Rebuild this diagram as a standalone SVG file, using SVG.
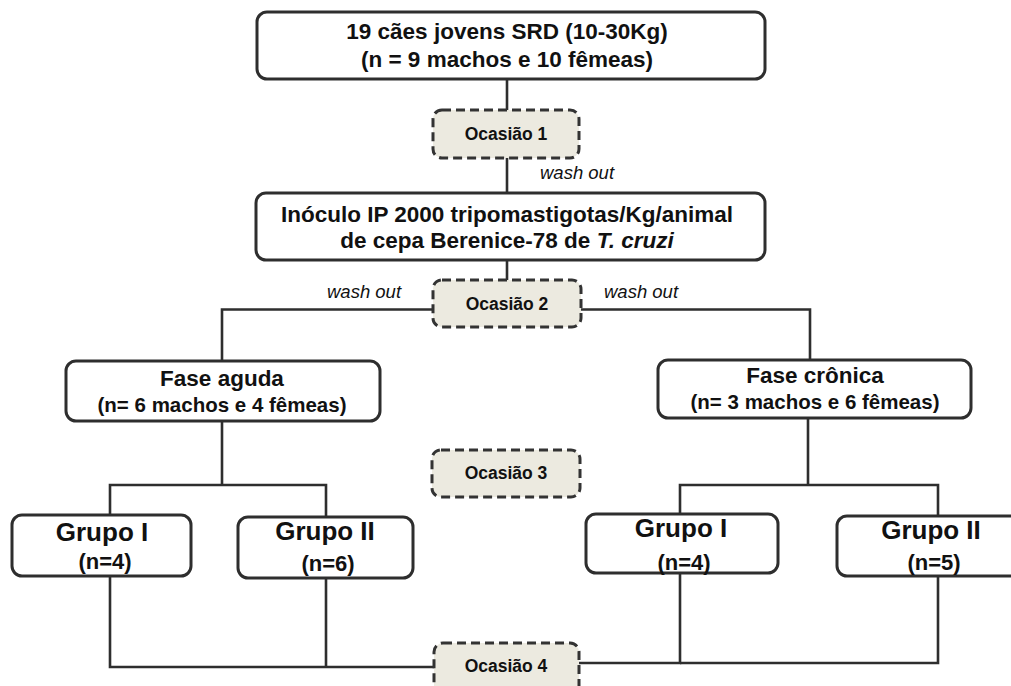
<svg xmlns="http://www.w3.org/2000/svg" width="1011" height="686" viewBox="0 0 1011 686">
<style>
.box{fill:#fff;stroke:#2e2e2e;stroke-width:3}
.occ{fill:#eceae0;stroke:#333;stroke-width:3;stroke-dasharray:9 5}
.ln{fill:none;stroke:#2e2e2e;stroke-width:2.6}
text{font-family:"Liberation Sans",Arial,sans-serif;fill:#111;text-anchor:middle}
.b{font-weight:bold;font-size:22.5px}
.s{font-weight:bold;font-size:20.5px}
.g{font-weight:bold;font-size:26px}
.n{font-weight:bold;font-size:22px}
.o{font-weight:bold;font-size:17.5px}
.w{font-style:italic;font-size:18.5px;text-anchor:start}
</style>
<rect width="1011" height="686" fill="#fff"/>
<g id="connectors">
<path class="ln" d="M507,79V110"/>
<path class="ln" d="M507,158V193"/>
<path class="ln" d="M507,260V280"/>
<path class="ln" d="M433,309.5H222V361"/>
<path class="ln" d="M581,309.5H810V360"/>
<path class="ln" d="M222,421V485"/>
<path class="ln" d="M110,515V485H326V517"/>
<path class="ln" d="M808,418V485"/>
<path class="ln" d="M680,514V485H938V516"/>
<path class="ln" d="M110,576V667H434"/>
<path class="ln" d="M326,578V667"/>
<path class="ln" d="M680,573V663H579"/>
<path class="ln" d="M938,576V663H680"/>
<text class="w" x="540" y="179">wash out</text>
<text class="w" x="327" y="298">wash out</text>
<text class="w" x="604" y="298">wash out</text>
</g>
<g id="top">
<rect class="box" x="257" y="12" width="508" height="67" rx="10"/>
<text class="b" x="507" y="39">19 cães jovens SRD (10-30Kg)</text>
<text class="b" x="507" y="67">(n = 9 machos e 10 fêmeas)</text>
</g>
<g id="ocasiao1">
<rect class="occ" x="433" y="110" width="146" height="48" rx="9"/>
<text class="o" x="506" y="140">Ocasião 1</text>
</g>
<g id="inoculo">
<rect class="box" x="256" y="193" width="509" height="67" rx="10"/>
<text class="b" x="507" y="222">Inóculo IP 2000 tripomastigotas/Kg/animal</text>
<text class="b" x="507" y="248">de cepa Berenice-78 de <tspan font-style="italic">T. cruzi</tspan></text>
</g>
<g id="ocasiao2">
<rect class="occ" x="433" y="280" width="148" height="47" rx="9"/>
<text class="o" x="507" y="310">Ocasião 2</text>
</g>
<g id="faseAguda">
<rect class="box" x="66" y="361" width="314" height="60" rx="10"/>
<text class="b" x="222" y="386">Fase aguda</text>
<text class="s" x="222" y="412">(n= 6 machos e 4 fêmeas)</text>
</g>
<g id="faseCronica">
<rect class="box" x="658" y="360" width="313" height="58" rx="10"/>
<text class="b" x="815" y="383">Fase crônica</text>
<text class="s" x="815" y="409">(n= 3 machos e 6 fêmeas)</text>
</g>
<g id="ocasiao3">
<rect class="occ" x="432" y="450" width="148" height="47" rx="9"/>
<text class="o" x="506" y="479">Ocasião 3</text>
</g>
<g id="grupoI-aguda">
<rect class="box" x="12" y="515" width="179" height="61" rx="10"/>
<text class="g" x="102" y="541">Grupo I</text>
<text class="n" x="105" y="569">(n=4)</text>
</g>
<g id="grupoII-aguda">
<rect class="box" x="238" y="517" width="175" height="61" rx="10"/>
<text class="g" x="325" y="540">Grupo II</text>
<text class="n" x="328" y="571">(n=6)</text>
</g>
<g id="grupoI-cronica">
<rect class="box" x="586" y="514" width="192" height="59" rx="10"/>
<text class="g" x="681" y="537">Grupo I</text>
<text class="n" x="684" y="570">(n=4)</text>
</g>
<g id="grupoII-cronica">
<rect class="box" x="837" y="516" width="190" height="60" rx="10"/>
<text class="g" x="931" y="539">Grupo II</text>
<text class="n" x="934" y="570">(n=5)</text>
</g>
<g id="ocasiao4">
<rect class="occ" x="434" y="643" width="145" height="60" rx="9"/>
<text class="o" x="506" y="672">Ocasião 4</text>
</g>
</svg>
